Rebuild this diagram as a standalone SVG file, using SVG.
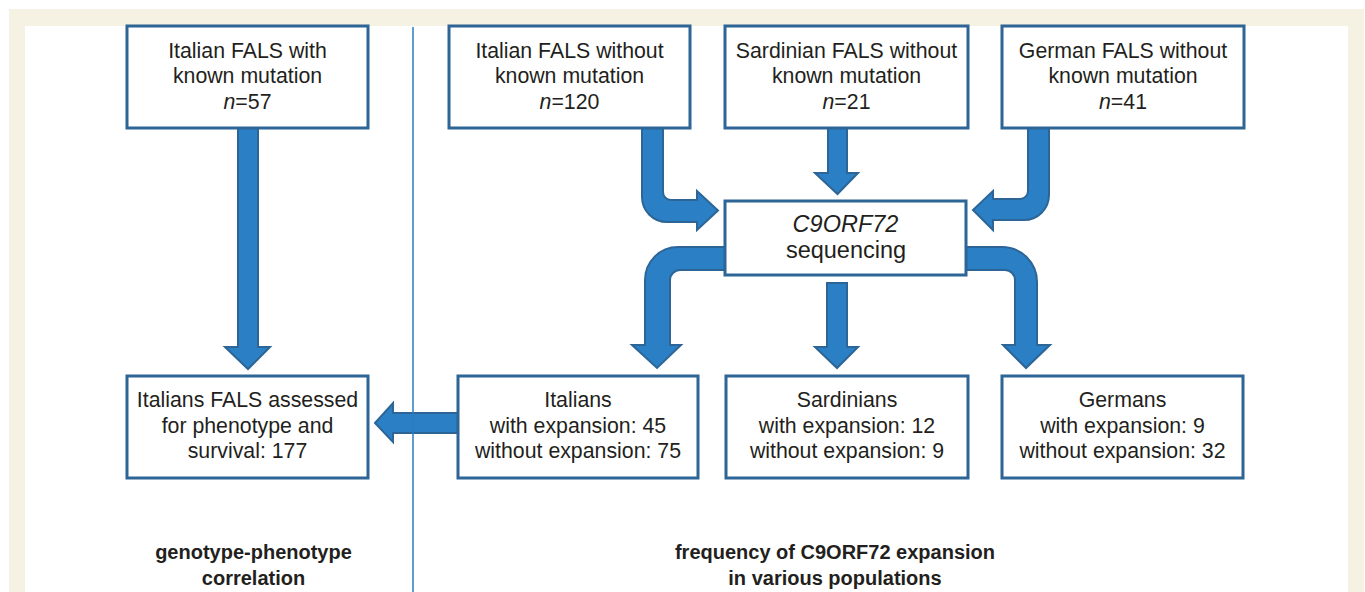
<svg xmlns="http://www.w3.org/2000/svg" width="1365" height="592" viewBox="0 0 1365 592">
<style>
.box{fill:#fff;stroke:#2c6596;stroke-width:3}
.arr{fill:#2b80c5;stroke:#2c6596;stroke-width:2;stroke-linejoin:miter}
.t{font-family:"Liberation Sans",Arial,sans-serif;font-size:21.3px;fill:#231f20;text-anchor:middle}
.c{font-size:23.5px}
.b{font-family:"Liberation Sans",Arial,sans-serif;font-size:20px;font-weight:bold;fill:#231f20;text-anchor:middle}
.i{font-style:italic}
</style>
<rect x="0" y="0" width="1365" height="592" fill="#fff"/>
<rect x="9" y="9" width="1355" height="583" fill="#f5f1e3"/>
<rect x="25" y="26" width="1323" height="566" fill="#fff"/>
<g id="connectors">
<path class="arr" d="M238,128 V347 H225 L248,369 L270,347 H258 V128 Z"/>
<path class="arr" d="M642,128 V197 A25,25 0 0 0 667,222 H697 V230 L718,210.5 L697,191 V200 H671 A8,8 0 0 1 663,192 V128 Z"/>
<path class="arr" d="M828,128 V173 H815 L837.5,194 L858,173 H847 V128 Z"/>
<path class="arr" d="M1049,128 V195 A25,25 0 0 1 1024,220 H993 V230 L973,210 L993,191 V199 H1020 A8,8 0 0 0 1028,191 V128 Z"/>
<path class="arr" d="M727,247 H678 A33,33 0 0 0 645,280 V345 H632 L657,368 L681,345 H670 V280 A10,10 0 0 1 680,270 H727 Z"/>
<path class="arr" d="M827,283 V347 H815 L837,368 L858,347 H847 V283 Z"/>
<path class="arr" d="M964,247 H1002 A35,35 0 0 1 1037,282 V345 H1050 L1026,368 L1003,345 H1015 V280 A10,10 0 0 0 1005,270 H964 Z"/>
<path class="arr" d="M460,413 H393 V403 L375,423 L393,442 V433 H460 Z"/>
</g>
<line x1="413" y1="27" x2="413" y2="592" stroke="#2b7bc0" stroke-width="1.5"/>
<g id="n1"><rect class="box" x="127" y="26" width="241" height="102"/>
<text class="t" x="247.5" y="58">Italian FALS with</text><text class="t" x="247.5" y="83">known mutation</text><text class="t" x="247.5" y="109"><tspan class="i">n</tspan>=57</text></g>
<g id="n2"><rect class="box" x="449" y="26" width="241" height="102"/>
<text class="t" x="569.5" y="58">Italian FALS without</text><text class="t" x="569.5" y="83">known mutation</text><text class="t" x="569.5" y="109"><tspan class="i">n</tspan>=120</text></g>
<g id="n3"><rect class="box" x="725" y="26" width="243" height="102"/>
<text class="t" x="846.5" y="58">Sardinian FALS without</text><text class="t" x="846.5" y="83">known mutation</text><text class="t" x="846.5" y="109"><tspan class="i">n</tspan>=21</text></g>
<g id="n4"><rect class="box" x="1002" y="26" width="242" height="102"/>
<text class="t" x="1123" y="58">German FALS without</text><text class="t" x="1123" y="83">known mutation</text><text class="t" x="1123" y="109"><tspan class="i">n</tspan>=41</text></g>
<g id="c9"><rect class="box" x="725" y="201" width="241" height="74"/>
<text class="t c i" x="845.5" y="232">C9ORF72</text><text class="t c" x="846" y="258">sequencing</text></g>
<g id="n5"><rect class="box" x="127" y="376" width="241" height="102"/>
<text class="t" x="247.5" y="407">Italians FALS assessed</text><text class="t" x="247.5" y="433">for phenotype and</text><text class="t" x="247.5" y="458">survival: 177</text></g>
<g id="n6"><rect class="box" x="458" y="376" width="240" height="102"/>
<text class="t" x="578" y="407">Italians</text><text class="t" x="578" y="433">with expansion: 45</text><text class="t" x="578" y="458">without expansion: 75</text></g>
<g id="n7"><rect class="box" x="726" y="376" width="242" height="102"/>
<text class="t" x="847" y="407">Sardinians</text><text class="t" x="847" y="433">with expansion: 12</text><text class="t" x="847" y="458">without expansion: 9</text></g>
<g id="n8"><rect class="box" x="1002" y="376" width="241" height="102"/>
<text class="t" x="1122.5" y="407">Germans</text><text class="t" x="1122.5" y="433">with expansion: 9</text><text class="t" x="1122.5" y="458">without expansion: 32</text></g>
<g id="labels">
<text class="b" x="253.5" y="559">genotype-phenotype</text><text class="b" x="253.5" y="585">correlation</text>
<text class="b" x="835" y="559">frequency of C9ORF72 expansion</text><text class="b" x="835" y="585">in various populations</text>
</g>
</svg>
